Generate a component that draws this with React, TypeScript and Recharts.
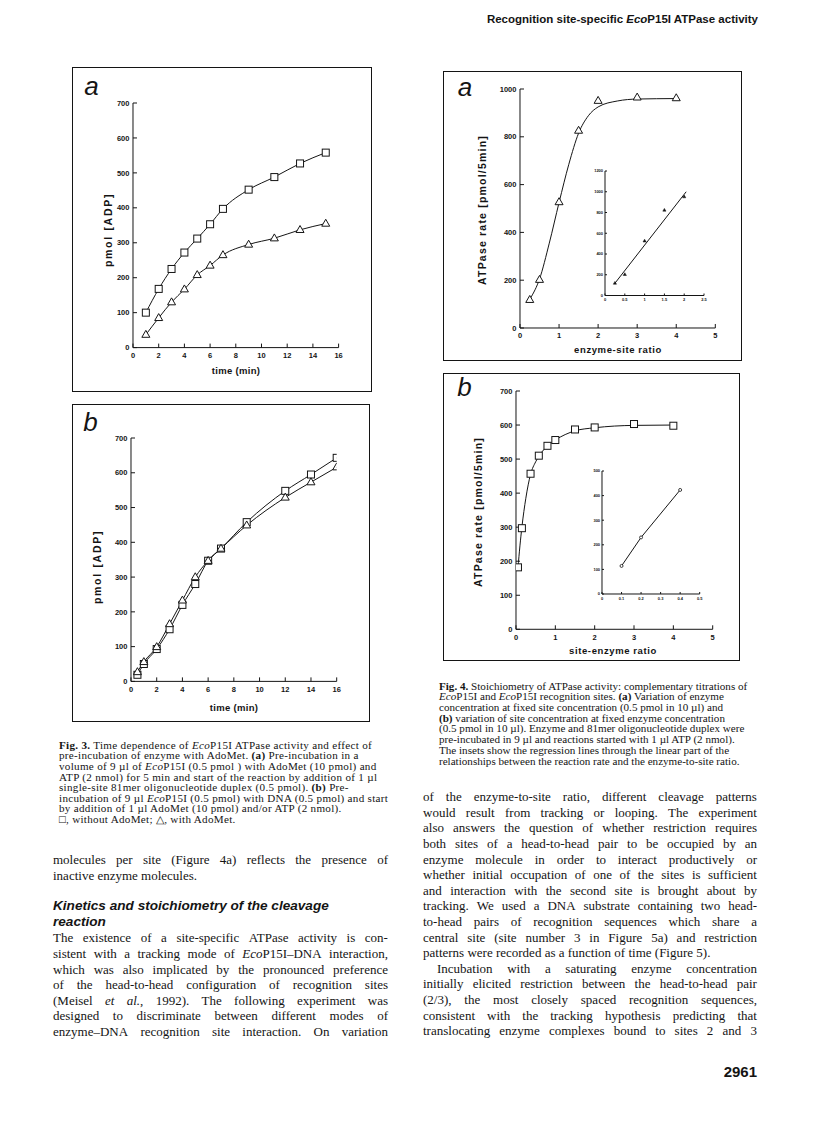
import React from 'react';
import { ComposedChart, Line, XAxis, YAxis } from 'recharts';

// ---------------- data ----------------
const fig3aTime = [1, 2, 3, 4, 5, 6, 7, 9, 11, 13, 15];
const fig3aWithoutAdoMet = [100, 168, 225, 272, 312, 353, 397, 452, 488, 527, 558];
const fig3aWithAdoMet = [37, 85, 130, 167, 208, 235, 265, 295, 313, 337, 355];

const fig3bTime = [0.5, 1, 2, 3, 4, 5, 6, 7, 9, 12, 14, 16];
const fig3bWithoutAdoMet = [19, 50, 93, 150, 220, 280, 347, 382, 458, 548, 595, 643];
const fig3bWithAdoMet = [27, 56, 99, 165, 233, 300, 347, 382, 449, 529, 573, 616];

const fig3TimeTicks = [0, 2, 4, 6, 8, 10, 12, 14, 16];
const fig3AdpTicks = [0, 100, 200, 300, 400, 500, 600, 700];

const fig4aRatio = [0.25, 0.5, 1, 1.5, 2, 3, 4];
const fig4aRate = [118, 202, 527, 826, 951, 965, 962];
const fig4aCurveRatio = [0.27, 0.5, 0.75, 1, 1.25, 1.5, 1.75, 2, 2.5, 3, 4];
const fig4aCurveRate = [125, 205, 355, 525, 685, 815, 888, 925, 950, 958, 960];
const fig4aRateTicks = [0, 200, 400, 600, 800, 1000];
const fig4aInsetRatio = [0.25, 0.5, 1, 1.5, 2];
const fig4aInsetRate = [119, 203, 526, 823, 952];
const fig4aInsetFitRatio = [0.24, 2.05];
const fig4aInsetFitRate = [113, 1000];
const fig4aInsetRatioTicks = [0, 0.5, 1, 1.5, 2, 2.5];
const fig4aInsetRateTicks = [0, 200, 400, 600, 800, 1000, 1200];

const fig4bRatio = [0.05, 0.15, 0.37, 0.58, 0.8, 1, 1.5, 2, 3, 4];
const fig4bRate = [182, 297, 457, 510, 539, 556, 587, 593, 603, 598];
const fig4bCurveRatio = [0.05, 0.1, 0.15, 0.25, 0.37, 0.5, 0.6, 0.8, 1, 1.25, 1.5, 2, 2.5, 3, 4];
const fig4bCurveRate = [180, 245, 300, 385, 455, 492, 512, 538, 556, 572, 583, 592, 597, 599, 600];
const fig4bRateTicks = [0, 100, 200, 300, 400, 500, 600, 700];
const fig4bInsetRatio = [0.1, 0.2, 0.4];
const fig4bInsetRate = [114, 230, 423];
const fig4bInsetRatioTicks = [0, 0.1, 0.2, 0.3, 0.4, 0.5];
const fig4bInsetRateTicks = [0, 100, 200, 300, 400, 500];

const fig4RatioTicks = [0, 1, 2, 3, 4, 5];

// ---------------- text ----------------
const headerText = 'Recognition site-specific _Eco_P15I ATPase activity';
const pageNumber = '2961';

const fig3Caption = [
  '*Fig. 3.* Time dependence of _Eco_P15I ATPase activity and effect of',
  'pre-incubation of enzyme with AdoMet. *(a)* Pre-incubation in a',
  'volume of 9 µl of _Eco_P15I (0.5 pmol ) with AdoMet (10 pmol) and',
  'ATP (2 nmol) for 5 min and start of the reaction by addition of 1 µl',
  'single-site 81mer oligonucleotide duplex (0.5 pmol). *(b)* Pre-',
  'incubation of 9 µl _Eco_P15I (0.5 pmol) with DNA (0.5 pmol) and start',
  'by addition of 1 µl AdoMet (10 pmol) and/or ATP (2 nmol).',
  '□, without AdoMet; △, with AdoMet.',
];

const fig4Caption = [
  '*Fig. 4.* Stoichiometry of ATPase activity: complementary titrations of',
  '_Eco_P15I and _Eco_P15I recognition sites. *(a)* Variation of enzyme',
  'concentration at fixed site concentration (0.5 pmol in 10 µl) and',
  '*(b)* variation of site concentration at fixed enzyme concentration',
  '(0.5 pmol in 10 µl). Enzyme and 81mer oligonucleotide duplex were',
  'pre-incubated in 9 µl and reactions started with 1 µl ATP (2 nmol).',
  'The insets show the regression lines through the linear part of the',
  'relationships between the reaction rate and the enzyme-to-site ratio.',
];

const leftIntro = [
  'molecules per site (Figure 4a) reflects the presence of',
  'inactive enzyme molecules.',
];
const leftHeading = ['Kinetics and stoichiometry of the cleavage', 'reaction'];
const leftBody = [
  'The existence of a site-specific ATPase activity is con-',
  'sistent with a tracking mode of _Eco_P15I–DNA interaction,',
  'which was also implicated by the pronounced preference',
  'of the head-to-head configuration of recognition sites',
  '(Meisel _et al._, 1992). The following experiment was',
  'designed to discriminate between different modes of',
  'enzyme–DNA recognition site interaction. On variation',
];

const rightPara1 = [
  'of the enzyme-to-site ratio, different cleavage patterns',
  'would result from tracking or looping. The experiment',
  'also answers the question of whether restriction requires',
  'both sites of a head-to-head pair to be occupied by an',
  'enzyme molecule in order to interact productively or',
  'whether initial occupation of one of the sites is sufficient',
  'and interaction with the second site is brought about by',
  'tracking. We used a DNA substrate containing two head-',
  'to-head pairs of recognition sequences which share a',
  'central site (site number 3 in Figure 5a) and restriction',
  'patterns were recorded as a function of time (Figure 5).',
];
const rightPara2 = [
  'Incubation with a saturating enzyme concentration',
  'initially elicited restriction between the head-to-head pair',
  '(2/3), the most closely spaced recognition sequences,',
  'consistent with the tracking hypothesis predicting that',
  'translocating enzyme complexes bound to sites 2 and 3',
];

// ---------------- helpers ----------------
const INK = '#141414';
const SANS = '"Liberation Sans", Arial, sans-serif';
const SERIF = '"Liberation Serif", "Times New Roman", serif';

type Seg = { t: string; i: boolean; b: boolean };
function parseLine(s: string): Seg[][] {
  let it = false;
  let bd = false;
  return s.split(' ').map((w) => {
    const segs: Seg[] = [];
    let cur = '';
    for (const ch of w) {
      if (ch === '_' || ch === '*') {
        if (cur) segs.push({ t: cur, i: it, b: bd });
        cur = '';
        if (ch === '_') it = !it;
        else bd = !bd;
      } else cur += ch;
    }
    if (cur) segs.push({ t: cur, i: it, b: bd });
    return segs;
  });
}

function Word({ segs }: { segs: Seg[] }) {
  return (
    <span style={{ whiteSpace: 'nowrap' }}>
      {segs.map((s, k) => (
        <span key={k} style={{ fontStyle: s.i ? 'italic' : undefined, fontWeight: s.b ? 700 : undefined }}>
          {s.t}
        </span>
      ))}
    </span>
  );
}

function TextLine(props: {
  text: string;
  x: number;
  cy: number;
  width: number;
  lh: number;
  size: number;
  justify: boolean;
  family?: string;
  style?: React.CSSProperties;
}) {
  const words = parseLine(props.text);
  const base: React.CSSProperties = {
    position: 'absolute',
    left: props.x,
    top: props.cy - props.lh / 2,
    height: props.lh,
    lineHeight: `${props.lh}px`,
    fontSize: props.size,
    fontFamily: props.family ?? SERIF,
    color: INK,
    whiteSpace: 'nowrap',
    ...props.style,
  };
  if (props.justify) {
    return (
      <div style={{ ...base, width: props.width, display: 'flex', justifyContent: 'space-between' }}>
        {words.map((w, k) => (
          <Word key={k} segs={w} />
        ))}
      </div>
    );
  }
  return (
    <div style={base}>
      {words.map((w, k) => (
        <React.Fragment key={k}>
          {k > 0 ? ' ' : ''}
          <Word segs={w} />
        </React.Fragment>
      ))}
    </div>
  );
}

function Label(props: {
  x: number;
  y: number;
  children: React.ReactNode;
  size: number;
  rotate?: number;
  anchor?: 'middle' | 'end';
  style?: React.CSSProperties;
}) {
  const tx = props.anchor === 'end' ? '-100%' : '-50%';
  return (
    <div
      style={{
        position: 'absolute',
        left: props.x,
        top: props.y,
        transform: `translate(${tx}, -50%)${props.rotate ? ` rotate(${props.rotate}deg)` : ''}`,
        whiteSpace: 'nowrap',
        lineHeight: 1,
        fontSize: props.size,
        fontFamily: SANS,
        fontWeight: 700,
        color: INK,
        ...props.style,
      }}
    >
      {props.children}
    </div>
  );
}

type Marker = 'square' | 'triangle' | 'triFill' | 'circle';
function mkDot(marker: Marker, size: number) {
  return (p: any) => {
    const { cx, cy, index } = p;
    if (cx == null || cy == null) return <g key={`d${index}`} />;
    if (marker === 'square') {
      return (
        <rect key={`d${index}`} x={cx - size / 2} y={cy - size / 2} width={size} height={size} fill="#fff" stroke={INK} strokeWidth={1} />
      );
    }
    if (marker === 'circle') {
      return <circle key={`d${index}`} cx={cx} cy={cy} r={size / 2} fill="#fff" stroke={INK} strokeWidth={0.8} />;
    }
    const h = size * 0.87;
    const pts = `${cx},${cy - h * 0.62} ${cx - size / 2},${cy + h * 0.38} ${cx + size / 2},${cy + h * 0.38}`;
    if (marker === 'triFill') return <polygon key={`d${index}`} points={pts} fill={INK} stroke={INK} strokeWidth={0.5} />;
    return <polygon key={`d${index}`} points={pts} fill="#fff" stroke={INK} strokeWidth={1} />;
  };
}

type Series = { x: number[]; y: number[]; marker?: Marker; size?: number; line?: boolean; curve?: 'monotone' | 'linear' };

function Plot(props: {
  x0: number;
  x1: number;
  yTop: number;
  yBot: number;
  xDomain: [number, number];
  yDomain: [number, number];
  xTicks: number[];
  yTicks: number[];
  series: Series[];
  font: number;
  tick: number;
  ml: number;
  mb: number;
  xFmt?: (v: number) => string;
}) {
  const { x0, x1, yTop, yBot, ml, mb, font, tick } = props;
  const mt = 8;
  const mr = 10;
  const w = x1 - x0 + ml + mr;
  const h = yBot - yTop + mt + mb;
  const tickStyle = { fontSize: font, fontWeight: 700, fill: INK, fontFamily: SANS };
  return (
    <div style={{ position: 'absolute', left: x0 - ml, top: yTop - mt, width: w, height: h }}>
      <ComposedChart width={w} height={h} margin={{ top: mt, right: mr, left: 0, bottom: 0 }}>
        <XAxis
          type="number"
          dataKey="x"
          domain={props.xDomain}
          ticks={props.xTicks}
          interval={0}
          allowDataOverflow
          height={mb}
          tickSize={-tick}
          tickMargin={tick + font * 0.68}
          axisLine={{ stroke: INK, strokeWidth: 1 }}
          tickLine={{ stroke: INK, strokeWidth: 1 }}
          tick={tickStyle}
          tickFormatter={props.xFmt}
        />
        <YAxis
          type="number"
          dataKey="y"
          domain={props.yDomain}
          ticks={props.yTicks}
          interval={0}
          allowDataOverflow
          width={ml}
          tickSize={-tick}
          tickMargin={tick + font * 0.48}
          axisLine={{ stroke: INK, strokeWidth: 1 }}
          tickLine={{ stroke: INK, strokeWidth: 1 }}
          tick={tickStyle}
        />
        {props.series.map((s, i) => (
          <Line
            key={i}
            data={s.x.map((xv, j) => ({ x: xv, y: s.y[j] }))}
            dataKey="y"
            type={s.curve ?? 'monotone'}
            stroke={s.line === false ? 'none' : INK}
            strokeWidth={1}
            dot={s.marker ? mkDot(s.marker, s.size ?? 7) : false}
            activeDot={false}
            isAnimationActive={false}
            legendType="none"
          />
        ))}
      </ComposedChart>
    </div>
  );
}

function Box({ x, y, w, h }: { x: number; y: number; w: number; h: number }) {
  return <div style={{ position: 'absolute', left: x, top: y, width: w, height: h, border: `1.5px solid ${INK}`, boxSizing: 'border-box' }} />;
}

const panelLetter: React.CSSProperties = { fontStyle: 'italic', fontWeight: 400, fontSize: 26 };
const yLab: React.CSSProperties = { letterSpacing: 1.2 };

export default function App() {
  const serifLines = (
    lines: string[],
    x: number,
    cy0: number,
    dy: number,
    width: number,
    size: number,
    justifyLast: boolean,
    justify = true,
    style?: React.CSSProperties
  ) =>
    lines.map((t, k) => (
      <TextLine
        key={`${cy0}-${k}`}
        text={t}
        x={x}
        cy={cy0 + dy * k}
        width={width}
        lh={dy}
        size={size}
        justify={justify && (k < lines.length - 1 || justifyLast)}
        style={style}
      />
    ));

  return (
    <div style={{ position: 'absolute', left: 0, top: 0, width: 816, height: 1121, background: '#fff', overflow: 'hidden' }}>
      {/* running header */}
      <Label x={758} y={20} size={11.5} anchor="end" style={{ fontFamily: '"Liberation Sans Narrow", "Liberation Sans", sans-serif', fontWeight: 700 }}>
        {parseLine(headerText).map((w, k) => (
          <React.Fragment key={k}>
            {k > 0 ? ' ' : ''}
            <Word segs={w} />
          </React.Fragment>
        ))}
      </Label>

      {/* ---------- Fig 3a ---------- */}
      <Box x={72} y={67} w={300} h={325} />
      <Label x={91.5} y={86} size={26} style={panelLetter}>a</Label>
      <Plot
        x0={132.7}
        x1={338.3}
        yTop={102.7}
        yBot={347.3}
        xDomain={[0, 16]}
        yDomain={[0, 700]}
        xTicks={fig3TimeTicks}
        yTicks={fig3AdpTicks}
        font={7.5}
        tick={4}
        ml={40}
        mb={30}
        series={[
          { x: fig3aTime, y: fig3aWithoutAdoMet, marker: 'square', size: 7 },
          { x: fig3aTime, y: fig3aWithAdoMet, marker: 'triangle', size: 8 },
        ]}
      />
      <Label x={108} y={230} size={10.5} rotate={-90} style={{ letterSpacing: 1.7 }}>pmol [ADP]</Label>
      <Label x={236} y={370.7} size={9.5} style={{ letterSpacing: 0.3 }}>time (min)</Label>

      {/* ---------- Fig 3b ---------- */}
      <Box x={72} y={404} w={298} h={318} />
      <Label x={90.5} y={422} size={26} style={panelLetter}>b</Label>
      <Plot
        x0={131}
        x1={336.7}
        yTop={438.3}
        yBot={681.7}
        xDomain={[0, 16]}
        yDomain={[0, 700]}
        xTicks={fig3TimeTicks}
        yTicks={fig3AdpTicks}
        font={7.5}
        tick={4}
        ml={40}
        mb={30}
        series={[
          { x: fig3bTime, y: fig3bWithoutAdoMet, marker: 'square', size: 7 },
          { x: fig3bTime, y: fig3bWithAdoMet, marker: 'triangle', size: 8 },
        ]}
      />
      <Label x={96.7} y={566.7} size={10.5} rotate={-90} style={{ letterSpacing: 1.7 }}>pmol [ADP]</Label>
      <Label x={234} y={708} size={9.5} style={{ letterSpacing: 0.3 }}>time (min)</Label>

      {/* ---------- Fig 4a ---------- */}
      <Box x={443} y={71} w={299} h={290} />
      <Label x={465} y={86.5} size={26} style={panelLetter}>a</Label>
      <Plot
        x0={520}
        x1={715.3}
        yTop={89.3}
        yBot={328.3}
        xDomain={[0, 5]}
        yDomain={[0, 1000]}
        xTicks={fig4RatioTicks}
        yTicks={fig4aRateTicks}
        font={7.5}
        tick={4}
        ml={40}
        mb={30}
        series={[
          { x: fig4aCurveRatio, y: fig4aCurveRate },
          { x: fig4aRatio, y: fig4aRate, marker: 'triangle', size: 8, line: false },
        ]}
      />
      <Plot
        x0={605}
        x1={704}
        yTop={170.5}
        yBot={295}
        xDomain={[0, 2.5]}
        yDomain={[0, 1200]}
        xTicks={fig4aInsetRatioTicks}
        yTicks={fig4aInsetRateTicks}
        font={4}
        tick={2}
        ml={16}
        mb={10}
        series={[
          { x: fig4aInsetFitRatio, y: fig4aInsetFitRate, curve: 'linear' },
          { x: fig4aInsetRatio, y: fig4aInsetRate, marker: 'triFill', size: 3.2, line: false },
        ]}
      />
      <Label x={482} y={210} size={10.5} rotate={-90} style={yLab}>ATPase rate [pmol/5min]</Label>
      <Label x={618} y={350} size={9.5} style={{ letterSpacing: 0.6 }}>enzyme-site ratio</Label>

      {/* ---------- Fig 4b ---------- */}
      <Box x={443} y={373} w={297} h={288} />
      <Label x={464.5} y={386.5} size={26} style={panelLetter}>b</Label>
      <Plot
        x0={516}
        x1={712.7}
        yTop={391}
        yBot={629.3}
        xDomain={[0, 5]}
        yDomain={[0, 700]}
        xTicks={fig4RatioTicks}
        yTicks={fig4bRateTicks}
        font={7.5}
        tick={4}
        ml={40}
        mb={30}
        series={[
          { x: fig4bCurveRatio, y: fig4bCurveRate },
          { x: fig4bRatio, y: fig4bRate, marker: 'square', size: 7, line: false },
        ]}
      />
      <Plot
        x0={602.3}
        x1={700}
        yTop={471}
        yBot={594}
        xDomain={[0, 0.5]}
        yDomain={[0, 500]}
        xTicks={fig4bInsetRatioTicks}
        yTicks={fig4bInsetRateTicks}
        font={4}
        tick={2}
        ml={16}
        mb={10}
        series={[{ x: fig4bInsetRatio, y: fig4bInsetRate, marker: 'circle', size: 3, curve: 'linear' }]}
      />
      <Label x={478} y={511.7} size={10.5} rotate={-90} style={yLab}>ATPase rate [pmol/5min]</Label>
      <Label x={613} y={650.7} size={9.5} style={{ letterSpacing: 0.6 }}>site-enzyme ratio</Label>

      {/* ---------- captions ---------- */}
      {serifLines(fig3Caption, 59, 745, 10.6, 330, 11.1, false, false, { letterSpacing: 0.3 })}
      {serifLines(fig4Caption, 439, 686, 10.7, 330, 11.1, false, false)}

      {/* ---------- left column ---------- */}
      {serifLines(leftIntro, 53, 860, 15.6, 335, 13, false)}
      {leftHeading.map((t, k) => (
        <TextLine
          key={`h${k}`}
          text={t}
          x={53}
          cy={906 + 15.6 * k}
          width={335}
          lh={15.6}
          size={13.6}
          justify={false}
          family={SANS}
          style={{ fontWeight: 700, fontStyle: 'italic' }}
        />
      ))}
      {serifLines(leftBody, 53, 938.2, 15.6, 335, 13, true)}

      {/* ---------- right column ---------- */}
      {serifLines(rightPara1, 423, 797, 15.6, 334, 13, false)}
      {rightPara2.map((t, k) => (
        <TextLine
          key={`r2${k}`}
          text={t}
          x={k === 0 ? 437 : 423}
          cy={797 + 15.6 * (11 + k)}
          width={k === 0 ? 320 : 334}
          lh={15.6}
          size={13}
          justify
        />
      ))}
      <Label x={757} y={1071} size={15} anchor="end">{pageNumber}</Label>
    </div>
  );
}
